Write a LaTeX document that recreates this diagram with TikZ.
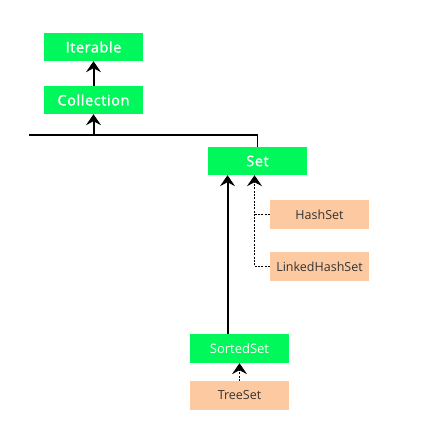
\documentclass[tikz,border=0pt]{standalone}
\usepackage{fontspec}
\setmainfont{Open Sans}
\newfontfamily\ifacefont[FakeBold=1.6, LetterSpace=4]{Open Sans}
\usepackage{tikz}
\usetikzlibrary{arrows.meta}
\definecolor{boxgreen}{RGB}{0,248,90}
\definecolor{boxpeach}{RGB}{253,201,160}
\tikzset{
  ifacebox/.style={fill=boxgreen, text=white, minimum width=99pt, minimum height=28pt, inner sep=0pt, font=\ifacefont\fontsize{14.5}{17}\selectfont},
  classbox/.style={fill=boxpeach, text=black!80, minimum width=99pt, minimum height=29pt, inner sep=0pt, font=\fontsize{12.5}{14}\selectfont},
  solidconn/.style={draw=black, line width=2pt, -{Stealth[length=11pt,width=15pt,inset=4pt]}},
  dotconn/.style={draw=black, line width=1.6pt, dash pattern=on 2pt off 1.3pt, -{Stealth[length=11pt,width=15pt,inset=4pt]}},
}
\begin{document}
\begin{tikzpicture}[x=1pt, y=-1pt]
         \useasboundingbox (0,0) rectangle (440,446);
         % interfaces
         \node[ifacebox] (iterable) at (93.5,47) {Iterable};
         \node[ifacebox] (collection) at (93.5,100) {Collection};
         \node[ifacebox] (set) at (257.5,161) {Set};
         \node[ifacebox, font=\fontsize{13}{15}\selectfont, minimum height=29pt] (sortedset) at (239.5,348.5) {SortedSet};
         
         % classes
         \node[classbox] (hashset) at (319.5,214.5) {HashSet};
         \node[classbox] (linkedhashset) at (319.5,266.5) {LinkedHashSet};
         \node[classbox] (treeset) at (239.5,395.5) {TreeSet};
         
         % helper points
         \coordinate (busend) at (29,135);
         \coordinate (dotx) at (254.5,0);
         \coordinate (solidx) at (227.5,0);
         
         % connectors
         \draw[solidconn] (collection.north) -- (iterable.south);
         \draw[draw=black, line width=1.6pt] (set.north) |- (busend);
         \draw[solidconn] (collection.south |- busend) -- (collection.south);
         \draw[solidconn] (sortedset.north -| solidx) -- (set.south -| solidx);
         \draw[draw=black, line width=1.6pt, dash pattern=on 2pt off 1.3pt] (hashset.west) -- (hashset.west -| dotx);
         \draw[dotconn] (linkedhashset.west) -- (linkedhashset.west -| dotx) -- (set.south -| dotx);
         \draw[dotconn] (treeset.north) -- (sortedset.south);
         
    \end{tikzpicture}
\end{document}
